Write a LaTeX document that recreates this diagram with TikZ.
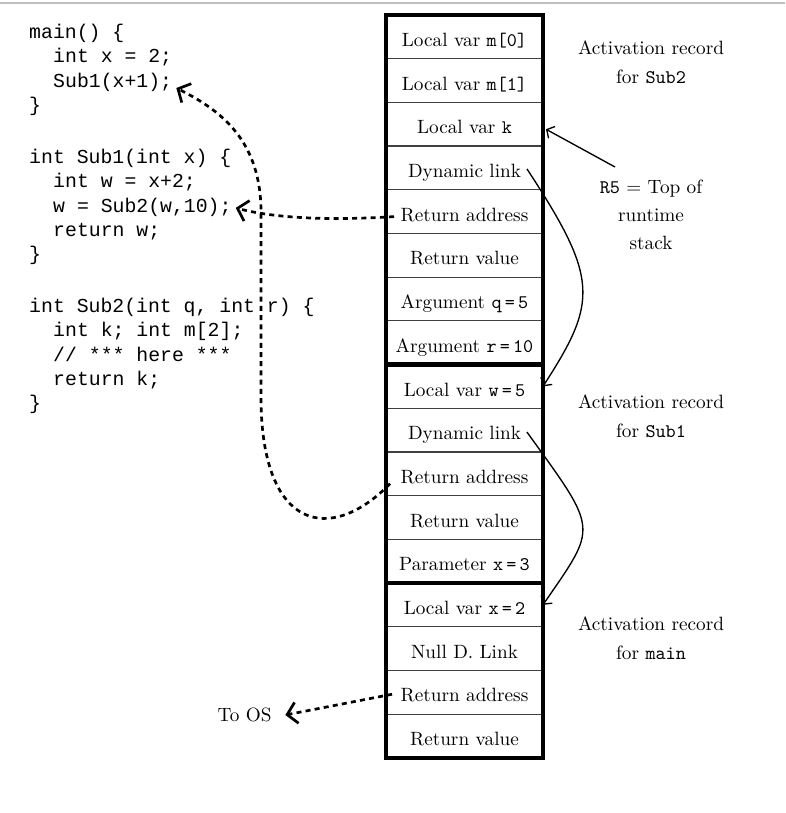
\documentclass[tikz,border=0pt]{standalone}
\usepackage{fontspec}
\newfontfamily\codefont{Liberation Mono}
\usetikzlibrary{arrows.meta,positioning,calc}
\tikzset{
    stack cell/.style={rectangle, draw=black!75, line width=0.6pt, minimum width=81.6pt, minimum height=22.72pt, inner sep=0pt, outer sep=0pt, text height=10pt, text depth=0pt, align=center},
    record frame/.style={draw, line width=2.2pt},
    record label/.style={align=center},
    code line/.style={anchor=base west, inner sep=2pt, font=\codefont\fontsize{10.3pt}{12pt}\selectfont},
    return link/.style={-{Straight Barb[length=5pt,width=11pt]}, line width=1.4pt, dash pattern=on 2.6pt off 2.2pt},
    dyn link/.style={-{Straight Barb[length=3pt,width=7pt]}, line width=0.7pt}
}
\begin{document}
\begin{tikzpicture}[x=0.52pt, y=-0.52pt, node distance=0pt]
    \useasboundingbox (0,0) rectangle (785,813);
    \draw[black!25, line width=1pt] (0,3) -- (785,3);

    % the program
    \node[code line] (mainhead) at (25,39) {main() \{};
    \node[code line] (mainx) at (49,63) {int x = 2;};
    \node[code line] (callsub1) at (49,88) {Sub1(x+1);};
    \node[code line] (mainend) at (25,112) {\}};
    \node[code line] (sub1head) at (25,164) {int Sub1(int x) \{};
    \node[code line] (sub1w) at (49,188) {int w = x+2;};
    \node[code line] (callsub2) at (49,213) {w = Sub2(w,10);};
    \node[code line] (sub1ret) at (49,237) {return w;};
    \node[code line] (sub1end) at (25,261) {\}};
    \node[code line] (sub2head) at (25,313) {int Sub2(int q, int r) \{};
    \node[code line] (sub2decl) at (49,337) {int k; int m[2];};
    \node[code line] (sub2here) at (49,361) {// *** here ***};
    \node[code line] (sub2ret) at (49,385) {return k;};
    \node[code line] (sub2end) at (25,409) {\}};

    % the runtime stack
    \node[stack cell] (m0) at (464.5,36.85) {Local var \texttt{m[0]}};
    \node[stack cell, below=of m0] (m1) {Local var \texttt{m[1]}};
    \node[stack cell, below=of m1] (k) {Local var \texttt{k}};
    \node[stack cell, below=of k] (dl2) {Dynamic link};
    \node[stack cell, below=of dl2] (ra2) {Return address};
    \node[stack cell, below=of ra2] (rv2) {Return value};
    \node[stack cell, below=of rv2] (q) {Argument \texttt{q\,=\,5}};
    \node[stack cell, below=of q] (r) {Argument \texttt{r\,=\,10}};
    \node[stack cell, below=of r] (w) {Local var \texttt{w\,=\,5}};
    \node[stack cell, below=of w] (dl1) {Dynamic link};
    \node[stack cell, below=of dl1] (ra1) {Return address};
    \node[stack cell, below=of ra1] (rv1) {Return value};
    \node[stack cell, below=of rv1] (px) {Parameter \texttt{x\,=\,3}};
    \node[stack cell, below=of px] (lx) {Local var \texttt{x\,=\,2}};
    \node[stack cell, below=of lx] (nl) {Null D. Link};
    \node[stack cell, below=of nl] (ra0) {Return address};
    \node[stack cell, below=of ra0] (rv0) {Return value};

    \draw[record frame] (m0.north west) rectangle (r.south east);
    \draw[record frame] (w.north west) rectangle (px.south east);
    \draw[record frame] (lx.north west) rectangle (rv0.south east);

    \node[record label] (sub2lab) at (651,62) {Activation record\\[3pt]for \texttt{Sub2}};
    \node[record label] (r5) at (651,215) {\texttt{R5} $=$ Top of\\[2.7pt]runtime\\[2.7pt]stack};
    \node[record label] (sub1lab) at (651,416) {Activation record\\[3pt]for \texttt{Sub1}};
    \node[record label] (mainlab) at (651,638) {Activation record\\[3pt]for \texttt{main}};
    \node[inner xsep=7pt] (toos) at (244.5,715) {To OS};

    % dynamic links and top of stack
    \coordinate (r5tail) at (615,167);
    \draw[dyn link] (r5tail) -- ($(k.east)+(3,5)$);
    \draw[dyn link] ($(dl2.east)+(-16,1)$) .. controls +(72,110) and +(55,-85) .. (w.east);
    \draw[dyn link] ($(dl1.east)+(-16,2)$) .. controls +(72,100) and +(55,-80) .. (lx.east);

    % return addresses
    \draw[return link] ($(ra2.west)+(8,5)$) .. controls (310,222) and (262,215) .. (callsub2.east);
    \draw[return link] ($(ra1.west)+(4,10)$) .. controls (330,545) and (262,530) .. (261,400)
        -- (261,215) .. controls (262,140) and (220,110) .. (callsub1.base east);
    \draw[return link] ($(ra0.west)+(6,2)$) -- (toos.east);
\end{tikzpicture}
\end{document}
